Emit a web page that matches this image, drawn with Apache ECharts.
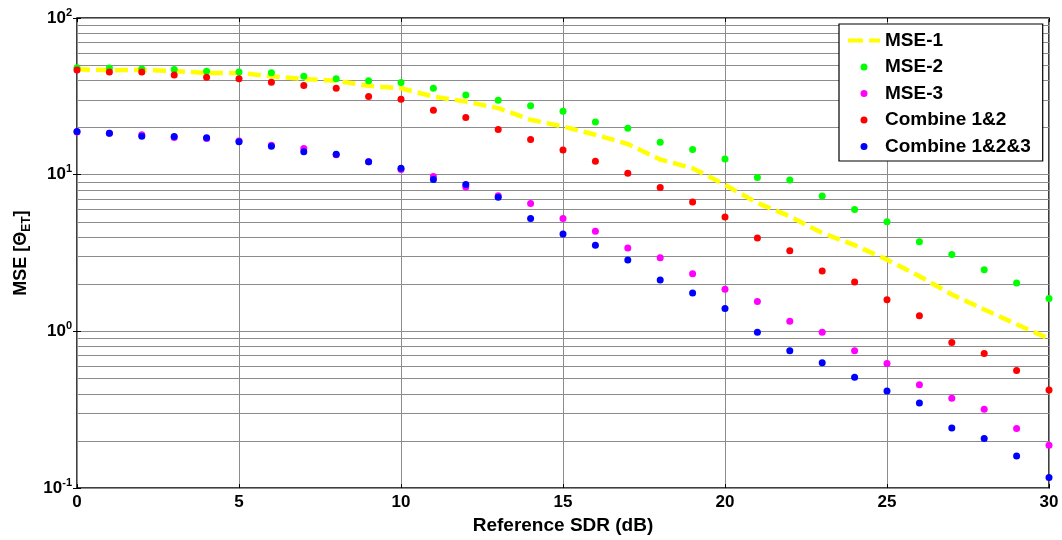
<!DOCTYPE html>
<html>
<head>
<meta charset="utf-8">
<script src="https://cdn.jsdelivr.net/npm/echarts@6/dist/echarts.min.js"></script>
<style>html,body{margin:0;padding:0;background:#fff}#c{width:1062px;height:540px}</style>
</head>
<body>
<div id="c"></div>
<script>
const sdr = [0,1,2,3,4,5,6,7,8,9,10,11,12,13,14,15,16,17,18,19,20,21,22,23,24,25,26,27,28,29,30];
const mse1 = [47.1,46.4,46.6,45.9,44.6,44.6,42.5,40.9,39.7,36.9,35.6,31.5,29.3,26.6,22.4,20.3,18.0,15.7,12.5,11.0,8.6,6.6,5.42,4.25,3.55,2.87,2.25,1.72,1.38,1.11,0.898];
const mse2 = [48.2,48.0,47.3,46.9,45.7,45.3,44.8,42.5,40.9,39.7,38.7,35.6,32.3,29.9,27.5,25.4,21.7,19.8,16.1,14.5,12.6,9.6,9.25,7.3,6.0,5.0,3.74,3.09,2.47,2.04,1.62];
const mse3 = [18.7,18.4,18.0,17.3,17.0,16.4,15.4,14.7,13.4,12.1,10.8,9.75,8.35,7.35,6.54,5.25,4.35,3.41,2.95,2.33,1.86,1.55,1.16,0.986,0.753,0.625,0.457,0.374,0.318,0.24,0.188];
const comb12 = [46.6,45.3,45.3,43.3,41.9,41.0,38.9,37.1,35.6,31.5,30.3,25.8,23.2,19.4,16.8,14.4,12.2,10.2,8.3,6.7,5.37,3.95,3.27,2.43,2.07,1.59,1.26,0.851,0.724,0.562,0.423];
const comb123 = [18.9,18.4,17.6,17.5,17.2,16.2,15.2,14.0,13.5,12.1,11.0,9.33,8.67,7.17,5.25,4.19,3.55,2.86,2.13,1.76,1.40,0.986,0.753,0.63,0.509,0.417,0.349,0.242,0.207,0.16,0.117];
const seriesNames = ['MSE-1','MSE-2','MSE-3','Combine 1&2','Combine 1&2&3'];
const minorGrid = [0.2,0.3,0.4,0.5,0.6,0.7,0.8,0.9,2,3,4,5,6,7,8,9,20,30,40,50,60,70,80,90];

const pairs = arr => sdr.map((x,i) => [x, arr[i]]);
const FONT = 'Liberation Sans, Arial, sans-serif';
const gridColor = '#8c8c8c';
const dashIcon = 'path://M0,0 L15,0 L15,4 L0,4 Z M21,0 L32,0 L32,4 L21,4 Z';

const chart = echarts.init(document.getElementById('c'));
const scatter = (name, arr, color) => ({
  name, type: 'scatter', data: pairs(arr), symbol: 'circle', symbolSize: 7,
  itemStyle: { color, opacity: 1 }, z: 3
});
chart.setOption({
  animation: false,
  backgroundColor: '#fff',
  textStyle: { fontFamily: FONT },
  grid: { left: 77, right: 13, top: 18, bottom: 51, show: true, borderColor: '#000', borderWidth: 1.5, backgroundColor: 'transparent' },
  legend: {
    orient: 'vertical', left: 839, top: 24,
    backgroundColor: '#fff', borderColor: '#000', borderWidth: 1.2,
    padding: [7, 12, 5, 9], itemGap: 7.5, itemWidth: 32, itemHeight: 7,
    textStyle: { fontFamily: FONT, fontWeight: 'bold', fontSize: 19, color: '#000' },
    data: [
      { name: 'MSE-1', icon: dashIcon, itemStyle: { color: '#ffff00' }, lineStyle: { opacity: 0, width: 0 } },
      { name: 'MSE-2', icon: 'circle' },
      { name: 'MSE-3', icon: 'circle' },
      { name: 'Combine 1&2', icon: 'circle' },
      { name: 'Combine 1&2&3', icon: 'circle' }
    ]
  },
  xAxis: [{
    type: 'value', min: 0, max: 30, interval: 5, position: 'bottom',
    name: 'Reference SDR (dB)', nameLocation: 'middle', nameGap: 26,
    nameTextStyle: { fontFamily: FONT, fontWeight: 'bold', fontSize: 19, color: '#000' },
    axisLine: { show: false },
    axisTick: { show: true, inside: true, length: 4, lineStyle: { color: '#000' } },
    axisLabel: { fontFamily: FONT, fontWeight: 'bold', fontSize: 17, color: '#000', margin: 6 },
    splitLine: { show: true, lineStyle: { color: gridColor, width: 1 } }
  }, {
    type: 'value', min: 0, max: 30, interval: 5, position: 'top',
    axisLine: { show: false },
    axisTick: { show: true, inside: true, length: 4, lineStyle: { color: '#000' } },
    axisLabel: { show: false }, splitLine: { show: false }
  }],
  yAxis: [{
    type: 'log', logBase: 10, min: 0.1, max: 100, position: 'left',
    name: '{a|MSE [Θ}{s|ET}{a|]}', nameLocation: 'middle', nameGap: 42, nameRotate: 90,
    nameTextStyle: {
      rich: {
        a: { fontFamily: FONT, fontWeight: 'bold', fontSize: 18, color: '#000' },
        s: { fontFamily: FONT, fontWeight: 'bold', fontSize: 12, color: '#000', padding: [10, 0, 0, 0] }
      }
    },
    axisLine: { show: false },
    axisTick: { show: true, inside: true, length: 4, lineStyle: { color: '#000' } },
    axisLabel: {
      margin: 5,
      formatter: v => '{b|10}{s|' + Math.round(Math.log10(v)) + '}',
      rich: {
        b: { fontFamily: FONT, fontWeight: 'bold', fontSize: 17, color: '#000' },
        s: { fontFamily: FONT, fontWeight: 'bold', fontSize: 11, color: '#000', padding: [0, 0, 11, 0] }
      }
    },
    splitLine: { show: true, lineStyle: { color: gridColor, width: 1 } }
  }, {
    type: 'log', logBase: 10, min: 0.1, max: 100, position: 'right',
    axisLine: { show: false },
    axisTick: { show: true, inside: true, length: 4, lineStyle: { color: '#000' } },
    axisLabel: { show: false }, splitLine: { show: false }
  }],
  series: [
    {
      name: 'MSE-1', type: 'line', data: pairs(mse1), showSymbol: false, symbol: 'none',
      lineStyle: { color: '#ffff00', width: 4.5, type: [13, 6] }, itemStyle: { color: '#ffff00' }, z: 2,
      markLine: {
        silent: true, symbol: 'none', z: 1, animation: false,
        label: { show: false },
        lineStyle: { color: gridColor, width: 1, type: 'solid' },
        data: minorGrid.map(v => ({ yAxis: v }))
      }
    },
    scatter('MSE-2', mse2, '#00ff00'),
    scatter('MSE-3', mse3, '#ff00ff'),
    scatter('Combine 1&2', comb12, '#ff0000'),
    scatter('Combine 1&2&3', comb123, '#0000ff')
  ]
});
</script>
</body>
</html>
